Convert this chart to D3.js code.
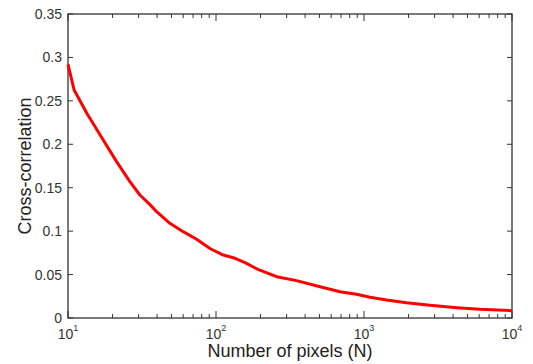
<!DOCTYPE html>
<html>
<head>
<meta charset="utf-8">
<script src="https://cdn.jsdelivr.net/npm/d3@7.9.0/dist/d3.min.js"></script>
<style>
  body { margin: 0; background: #fff; }
  svg { display: block; font-family: "Liberation Sans", Arial, sans-serif; }
  .tick-label { fill: #333; font-size: 14px; }
  .axis-title { fill: #222; font-size: 18px; }
</style>
</head>
<body>
<svg width="533" height="364"></svg>
<script>
// values
const pixelCounts = [10, 11, 13.4, 17.3, 21.3, 26.2, 30.6, 35.8, 39.7, 48.8, 60, 74, 91, 112, 131, 157, 192, 257, 350, 505, 689, 890, 1098, 1422, 1941, 2794, 4230, 6080, 10000];
const crossCorr = [0.292, 0.2625, 0.2357, 0.205, 0.18, 0.157, 0.1416, 0.1305, 0.1224, 0.109, 0.0994, 0.0906, 0.080, 0.0725, 0.0694, 0.0637, 0.056, 0.0476, 0.043, 0.036, 0.0303, 0.0273, 0.0238, 0.0207, 0.0176, 0.0146, 0.0119, 0.010, 0.0084];
const yTicks = [0, 0.05, 0.1, 0.15, 0.2, 0.25, 0.3, 0.35];
const xDecades = [1, 2, 3, 4];

const svg = d3.select('svg');
const plotLeft = 68, plotRight = 512, plotTop = 14, plotBottom = 318;

let x = d3.scaleLog().domain([10, 1e4]).range([plotLeft, plotRight]);
let y = d3.scaleLinear().domain([0, 0.35]).range([plotBottom, plotTop]);
const axisColor = '#333';

// minor ticks for log axis
let minorTicks = [];
xDecades.slice(0, -1).forEach((p) => {
  for (let m = 2; m <= 9; m++) minorTicks.push(m * Math.pow(10, p));
});

const g = svg.append('g');

// x ticks (bottom and top, pointing inward)
xDecades.forEach((p) => {
  let v = Math.pow(10, p);
  g.append('line').attr('x1', x(v)).attr('x2', x(v)).attr('y1', plotBottom).attr('y2', plotBottom - 7).attr('stroke', axisColor);
  g.append('line').attr('x1', x(v)).attr('x2', x(v)).attr('y1', plotTop).attr('y2', plotTop + 7).attr('stroke', axisColor);
});
minorTicks.forEach((v) => {
  g.append('line').attr('x1', x(v)).attr('x2', x(v)).attr('y1', plotBottom).attr('y2', plotBottom - 4).attr('stroke', axisColor);
  g.append('line').attr('x1', x(v)).attr('x2', x(v)).attr('y1', plotTop).attr('y2', plotTop + 4).attr('stroke', axisColor);
});

// y ticks (left and right)
yTicks.forEach((v) => {
  g.append('line').attr('x1', plotLeft).attr('x2', plotLeft + 5).attr('y1', y(v)).attr('y2', y(v)).attr('stroke', axisColor);
  g.append('line').attr('x1', plotRight).attr('x2', plotRight - 5).attr('y1', y(v)).attr('y2', y(v)).attr('stroke', axisColor);
  g.append('text')
    .attr('class', 'tick-label')
    .attr('x', plotLeft - 6)
    .attr('y', y(v) + 5)
    .attr('text-anchor', 'end')
    .text(d3.format('~g')(v));
});

// x tick labels: 10 with superscript exponent
xDecades.forEach((p) => {
  let t = g.append('text')
    .attr('class', 'tick-label')
    .attr('x', x(Math.pow(10, p)))
    .attr('y', 339)
    .attr('text-anchor', 'middle');
  t.append('tspan').text('10');
  t.append('tspan').attr('dy', -8).attr('font-size', 9).text(p);
});

// frame
g.append('rect')
  .attr('x', plotLeft).attr('y', plotTop)
  .attr('width', plotRight - plotLeft).attr('height', plotBottom - plotTop)
  .attr('fill', 'none').attr('stroke', axisColor).attr('stroke-width', 1.3);

// curve
let line = d3.line()
  .x((d, i) => x(pixelCounts[i]))
  .y((d) => y(d));

svg.append('path')
  .datum(crossCorr)
  .attr('d', line)
  .attr('fill', 'none')
  .attr('stroke', '#ff0000')
  .attr('stroke-width', 3)
  .attr('stroke-linejoin', 'round');

// axis titles
svg.append('text')
  .attr('class', 'axis-title')
  .attr('x', (plotLeft + plotRight) / 2)
  .attr('y', 357)
  .attr('text-anchor', 'middle')
  .text('Number of pixels (N)');

svg.append('text')
  .attr('class', 'axis-title')
  .attr('transform', `translate(31, ${(plotTop + plotBottom) / 2}) rotate(-90)`)
  .attr('text-anchor', 'middle')
  .text('Cross-correlation');
</script>
</body>
</html>
